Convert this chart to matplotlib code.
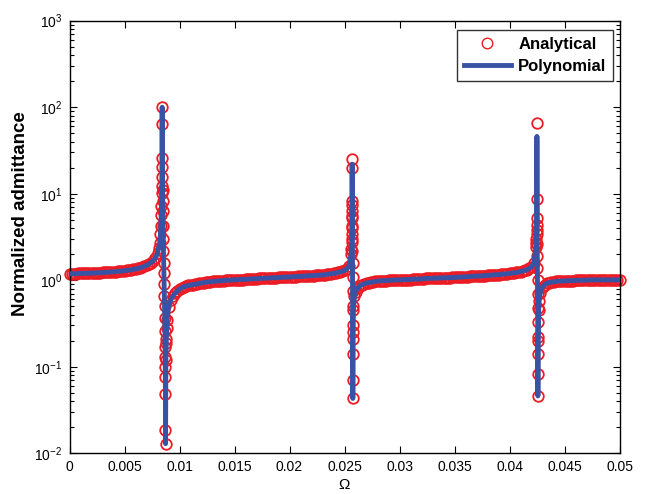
import numpy as np
import matplotlib
matplotlib.use("Agg")
import matplotlib.pyplot as plt
from matplotlib.ticker import LogLocator, NullFormatter
from matplotlib.lines import Line2D

plt.rcParams['font.family'] = ['Liberation Sans', 'DejaVu Sans']
plt.rcParams['mathtext.fontset'] = 'custom'
plt.rcParams['mathtext.rm'] = 'Liberation Sans'
plt.rcParams['mathtext.it'] = 'Liberation Sans:italic'
plt.rcParams['mathtext.bf'] = 'Liberation Sans:bold'

# ---------------- data ----------------
omega_step = 0.0002   # sampling grid of the regular part
base_analytical = [
    1.19, 1.19, 1.19, 1.19, 1.20, 1.20, 1.20, 1.20, 1.21, 1.21,
    1.21, 1.21, 1.22, 1.22, 1.22, 1.23, 1.23, 1.24, 1.24, 1.25,
    1.25, 1.26, 1.27, 1.27, 1.28, 1.29, 1.30, 1.31, 1.32, 1.34,
    1.35, 1.37, 1.39, 1.42, 1.45, 1.49, 1.54, 1.60, 1.68, 1.80,
    2.05, 2.7, 20.5, 0.9, 0.21, 0.49, 0.59, 0.66, 0.71, 0.75,
    0.79, 0.82, 0.84, 0.86, 0.87, 0.88, 0.89, 0.90, 0.91, 0.92,
    0.93, 0.94, 0.95, 0.96, 0.96, 0.97, 0.97, 0.98, 0.98, 0.99,
    0.99, 1.00, 1.00, 1.00, 1.01, 1.01, 1.01, 1.02, 1.02, 1.02,
    1.03, 1.03, 1.03, 1.04, 1.04, 1.04, 1.05, 1.05, 1.05, 1.06,
    1.06, 1.06, 1.07, 1.07, 1.07, 1.08, 1.08, 1.08, 1.09, 1.09,
    1.09, 1.10, 1.10, 1.10, 1.11, 1.11, 1.11, 1.12, 1.12, 1.13,
    1.13, 1.13, 1.14, 1.14, 1.15, 1.15, 1.16, 1.17, 1.18, 1.19,
    1.20, 1.21, 1.23, 1.25, 1.27, 1.30, 1.35, 1.45, 2.0, 0.45,
    0.74, 0.81, 0.86, 0.89, 0.91, 0.93, 0.94, 0.95, 0.96, 0.97,
    0.98, 0.98, 0.99, 0.99, 0.99, 1.00, 1.00, 1.00, 1.01, 1.01,
    1.01, 1.01, 1.02, 1.02, 1.02, 1.02, 1.03, 1.03, 1.03, 1.03,
    1.04, 1.04, 1.05, 1.05, 1.05, 1.05, 1.06, 1.06, 1.06, 1.06,
    1.07, 1.07, 1.07, 1.07, 1.08, 1.08, 1.08, 1.09, 1.09, 1.09,
    1.10, 1.10, 1.11, 1.11, 1.11, 1.12, 1.12, 1.12, 1.13, 1.13,
    1.14, 1.14, 1.15, 1.15, 1.16, 1.16, 1.17, 1.18, 1.18, 1.19,
    1.20, 1.21, 1.22, 1.23, 1.24, 1.26, 1.28, 1.30, 1.33, 1.37,
    1.43, 1.57, 2.4, 0.2, 0.72, 0.84, 0.89, 0.92, 0.94, 0.95,
    0.96, 0.97, 0.97, 0.98, 0.98, 0.98, 0.99, 0.99, 0.99, 0.99,
    1.00, 1.00, 1.00, 1.00, 1.00, 1.00, 1.01, 1.01, 1.01, 1.01,
    1.01, 1.01, 1.01, 1.01, 1.01, 1.01, 1.01, 1.01, 1.01, 1.01, 1.01,
]

# extra samples around the three resonances
res1_omega = [0.0081, 0.00826, 0.0083, 0.00834, 0.00836, 0.00838, 0.00839, 0.00842,
              0.00843, 0.00844, 0.00845, 0.00846, 0.00847, 0.00848, 0.0085, 0.00852,
              0.00854, 0.00856, 0.00858, 0.00862, 0.00864, 0.00866, 0.00868, 0.00869,
              0.0087, 0.00871, 0.008715, 0.00872, 0.008725, 0.00873, 0.00876, 0.00879,
              0.00884, 0.00888]
res1_values = [2.35, 3.4, 4.2, 5.7, 7.3, 10.2, 12.4, 100,
               64, 26, 15.6, 11, 8.2, 6.3, 4.2, 3.0,
               2.2, 1.6, 1.2, 0.65, 0.5, 0.37, 0.26, 0.17,
               0.13, 0.1, 0.076, 0.049, 0.0186, 0.0129, 0.12, 0.19,
               0.28, 0.35]

res2_omega = [0.02563, 0.02565, 0.02566, 0.02567, 0.025675, 0.02568, 0.025685, 0.02569,
              0.025695, 0.0257, 0.025705, 0.02571, 0.025715, 0.02572, 0.025725, 0.02573,
              0.025735, 0.02574, 0.025745, 0.025748, 0.02575, 0.025752, 0.025755, 0.02577,
              0.0259]
res2_values = [2.3, 2.8, 3.4, 4.2, 5.2, 6.4, 8.3, 25,
               20, 7.5, 5.5, 4.0, 3.0, 2.2, 1.6, 1.1,
               0.75, 0.5, 0.3, 0.21, 0.14, 0.07, 0.043, 0.25,
               0.65]

res3_omega = [0.04243, 0.04245, 0.04246, 0.04247, 0.04248, 0.04249, 0.0425, 0.04251,
              0.04252, 0.04253, 0.04254, 0.04255, 0.042555, 0.04256, 0.042565, 0.04257,
              0.042573, 0.042576, 0.04258, 0.04265, 0.0427]
res3_values = [2.7, 3.0, 3.4, 4.3, 5.2, 65, 8.8, 3.8,
               2.6, 1.9, 1.4, 1.0, 0.7, 0.48, 0.33, 0.22,
               0.14, 0.083, 0.046, 0.45, 0.58]

# where the polynomial approximation peaks differ from the analytical one
poly_peak_omega = [0.02569, 0.04249]
poly_peak_values = [22, 46]

xtick_values = [0, 0.005, 0.01, 0.015, 0.02, 0.025, 0.03, 0.035, 0.04, 0.045, 0.05]
xtick_labels = ['0', '0.005', '0.01', '0.015', '0.02', '0.025', '0.03', '0.035',
                '0.04', '0.045', '0.05']

# ---------------- assemble ----------------
omega_base = np.round(np.arange(len(base_analytical)) * omega_step, 6)
omega = np.concatenate([omega_base, res1_omega, res2_omega, res3_omega])
analytical = np.concatenate([base_analytical, res1_values, res2_values, res3_values])
order = np.argsort(omega, kind='stable')
omega = omega[order]
analytical = analytical[order]
polynomial = analytical.copy()
for w, v in zip(poly_peak_omega, poly_peak_values):
    polynomial[np.isclose(omega, w, rtol=0, atol=1e-9)] = v

red = '#ec1c24'
blue = '#3953a4'
ms = 7.6
mew = 1.3

fig = plt.figure(figsize=(6.59, 4.94), dpi=100)
ax = fig.add_axes([0.1055, 0.0824, 0.8346, 0.8757])

ax.plot(omega, analytical, linestyle='none', marker='o', ms=ms, mfc='none',
        mec=red, mew=mew, clip_on=False, zorder=2)
ax.plot(omega, polynomial, '-', color=blue, lw=3.5, solid_capstyle='round', zorder=3)

ax.set_yscale('log')
ax.set_xlim(0, 0.05)
ax.set_ylim(1e-2, 1e3)
ax.set_xticks(xtick_values)
ax.set_xticklabels(xtick_labels)
ax.yaxis.set_major_locator(LogLocator(base=10, numticks=10))
ax.yaxis.set_minor_locator(LogLocator(base=10, subs=np.arange(2, 10), numticks=20))
ax.yaxis.set_minor_formatter(NullFormatter())

ax.tick_params(which='both', direction='in', top=True, right=True, labelsize=10,
               width=0.8, colors='black')
ax.tick_params(which='major', length=5, pad=5)
ax.tick_params(which='minor', length=3)
for s in ax.spines.values():
    s.set_linewidth(1.0)

ax.set_ylabel('Normalized admittance', fontsize=13.5, fontweight='bold')
ax.yaxis.set_label_coords(-0.074, 0.555)
ax.set_xlabel('Ω', fontsize=11, labelpad=3)

handles = [
    Line2D([], [], linestyle='none', marker='o', ms=ms, mfc='none', mec=red, mew=1.0),
    Line2D([], [], color=blue, lw=3.5),
]
leg = ax.legend(handles, ['Analytical', 'Polynomial'], loc='upper right',
                bbox_to_anchor=(613 / 659, 1 - 30 / 494), bbox_transform=fig.transFigure,
                prop={'weight': 'bold', 'size': 12}, frameon=True, fancybox=False,
                edgecolor='black', handlelength=2.8, borderaxespad=0.0,
                borderpad=0.4, labelspacing=0.45, handletextpad=0.45)
leg.get_frame().set_linewidth(1.0)

fig.savefig('out.png', dpi=100)
